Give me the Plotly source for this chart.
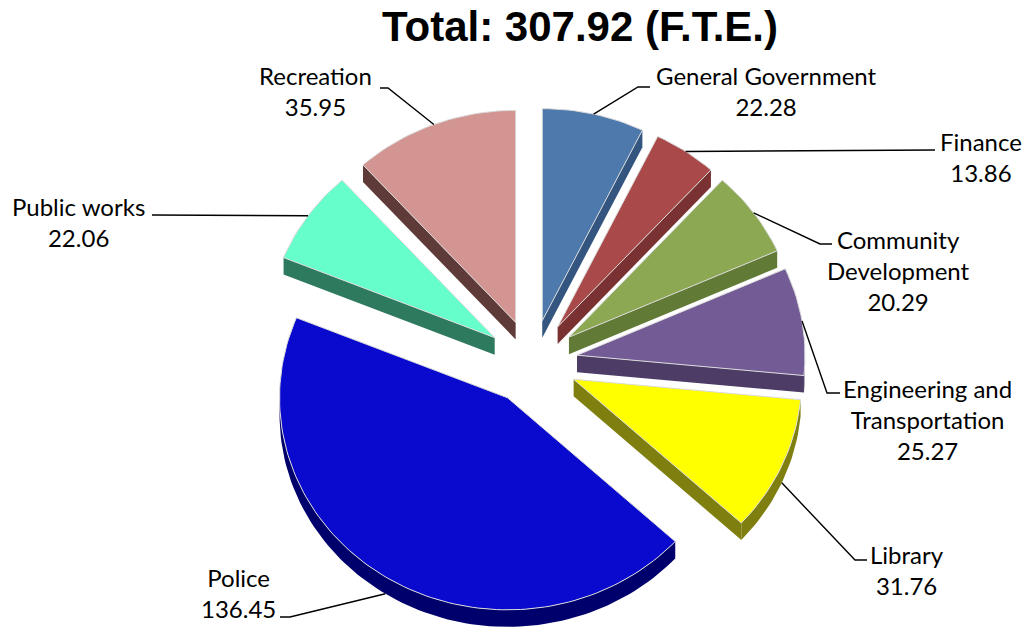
import numpy as np
import plotly.graph_objects as go

# ---- data -------------------------------------------------------------
categories = [
    "General Government", "Finance", "Community Development",
    "Engineering and Transportation", "Library", "Police",
    "Public works", "Recreation",
]
values = [22.28, 13.86, 20.29, 25.27, 31.76, 136.45, 22.06, 35.95]
label_lines = [
    ["General Government"], ["Finance"], ["Community", "Development"],
    ["Engineering and", "Transportation"], ["Library"], ["Police"],
    ["Public works"], ["Recreation"],
]
title_text = "Total: 307.92 (F.T.E.)"

# ---- style ------------------------------------------------------------
top_colors = ["#4D79AD", "#A9494A", "#8CA852", "#735C95",
              "#FFFF00", "#0A0ACF", "#66FFCC", "#D29592"]
side_colors = ["#34557F", "#7A3131", "#617A35", "#4C3C66",
               "#7F7F10", "#00006C", "#2E7A5E", "#5E3A38"]

W, H = 1027, 637
CX, CY = 532, 362          # pie centre, pixels from top-left
S = 228                    # pixels per unit radius
TILT = 0.93                # vertical squash of the tilted disc
PULL = 0.2                 # explode distance, fraction of radius
DEPTH = 17 / S             # thickness of the disc
FONT = "Lato, 'Open Sans', sans-serif"

# label block centres and leader start/elbow points (pixels)
label_pos = [(766, 91), (981, 157), (898, 270), (927, 419),
             (907, 570), (238, 593), (78, 222), (315, 91)]
leader_start = [[(650, 87), (638, 87)], [(935, 150)], [(832, 244), (820, 244)],
                [(840, 393), (827, 393)], [(867, 560), (855, 560)],
                [(280, 617), (290, 617)], [(152, 215)], [(380, 88), (388, 88)]]


def to_data(px, py):
    return (px - CX) / S, (CY - py) / S


total = sum(values)
bounds = np.concatenate([[0], np.cumsum(values)]) / total * 2 * np.pi

fig = go.Figure()


def poly(xs, ys, color, line_color=None, width=0):
    fig.add_trace(go.Scatter(
        x=xs, y=ys, mode="lines", fill="toself", fillcolor=color,
        line=dict(color=line_color or color, width=width),
        hoverinfo="skip", showlegend=False))


def arc(ox, oy, a, b):
    n = max(4, int(np.degrees(b - a) / 1.5))
    t = np.linspace(a, b, n)
    return ox + np.sin(t), oy + TILT * np.cos(t)


slices = []
for i, v in enumerate(values):
    t0, t1 = bounds[i], bounds[i + 1]
    mid = (t0 + t1) / 2
    ox, oy = PULL * np.sin(mid), PULL * TILT * np.cos(mid)
    slices.append((i, t0, t1, mid, ox, oy))

# paint back to front
for i, t0, t1, mid, ox, oy in sorted(slices, key=lambda s: -np.cos(s[3])):
    sc = side_colors[i]
    # radial side faces that turn toward the viewer
    for t, visible in ((t0, np.sin(t0) < -1e-9), (t1, np.sin(t1) > 1e-9)):
        if visible:
            ex, ey = ox + np.sin(t), oy + TILT * np.cos(t)
            poly([ox, ex, ex, ox, ox], [oy, ey, ey - DEPTH, oy - DEPTH, oy], sc)
    # outer rim on the front half
    a, b = max(t0, np.pi / 2), min(t1, 3 * np.pi / 2)
    if a < b:
        ax_, ay_ = arc(ox, oy, a, b)
        poly(np.concatenate([ax_, ax_[::-1], ax_[:1]]),
             np.concatenate([ay_, ay_[::-1] - DEPTH, ay_[:1]]), sc)
    # top face
    tx, ty = arc(ox, oy, t0, t1)
    poly(np.concatenate([[ox], tx, [ox]]), np.concatenate([[oy], ty, [oy]]),
         top_colors[i], line_color="#DADADA", width=1)

# leader lines and labels
annotations = []
for i, t0, t1, mid, ox, oy in slices:
    ex = ox + np.sin(mid)
    ey = oy + TILT * np.cos(mid) - (DEPTH if np.cos(mid) < 0 else 0)
    pts = [to_data(*p) for p in leader_start[i]] + [(ex, ey)]
    fig.add_trace(go.Scatter(
        x=[p[0] for p in pts], y=[p[1] for p in pts], mode="lines",
        line=dict(color="black", width=1.4), hoverinfo="skip", showlegend=False))
    lx, ly = label_pos[i]
    annotations.append(dict(
        x=lx / W, y=1 - ly / H, xref="paper", yref="paper",
        text="<br>".join(label_lines[i] + [f"{values[i]:.2f}"]),
        showarrow=False, xanchor="center", yanchor="middle", align="center",
        font=dict(family=FONT, size=24, color="black")))

annotations.append(dict(
    x=580 / W, y=1 - 27 / H, xref="paper", yref="paper", text=f"<b>{title_text}</b>",
    showarrow=False, xanchor="center", yanchor="middle",
    font=dict(family="'Liberation Sans', Arial, sans-serif", size=42, color="black")))

x0, _ = to_data(0, 0)
x1, _ = to_data(W, 0)
_, ytop = to_data(0, 0)
_, ybot = to_data(0, H)
fig.update_layout(
    width=W, height=H, autosize=False,
    margin=dict(l=0, r=0, t=0, b=0),
    paper_bgcolor="white", plot_bgcolor="white",
    xaxis=dict(range=[x0, x1], visible=False, fixedrange=True),
    yaxis=dict(range=[ybot, ytop], visible=False, fixedrange=True),
    annotations=annotations,
    showlegend=False,
)

fig.write_html("out.html")
